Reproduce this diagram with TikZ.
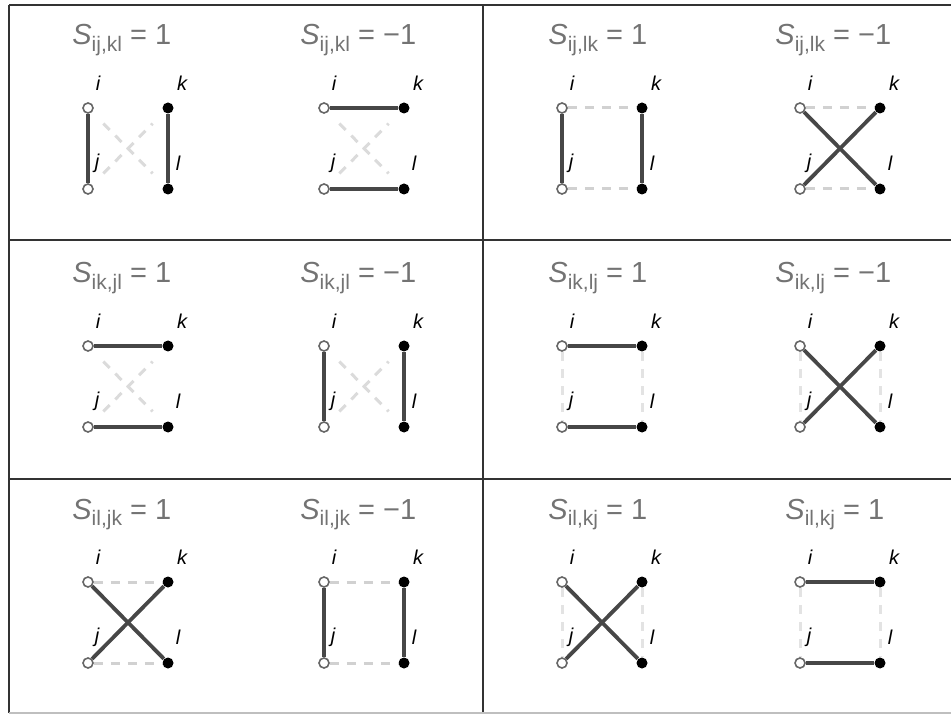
\documentclass[tikz,border=0pt]{standalone}
\usepackage{fontspec}
\setmainfont{Liberation Sans}
\tikzset{
  x=0.5pt, y=-0.5pt,
  opennode/.style={circle, draw=black!60, fill=white, line width=0.8pt, inner sep=0pt, minimum size=5pt},
  fullnode/.style={circle, fill=black, inner sep=0pt, minimum size=5.5pt},
  bond/.style={draw=black!72, line width=1.9pt},
  ghost/.style={draw=black!18, line width=1.5pt, dash pattern=on 4.5pt off 4pt},
  ghostv/.style={ghost, draw=black!11},
  ghostx/.style={ghost, draw=black!14, shorten <=8pt, shorten >=8pt},
  lbl/.style={font=\fontsize{10}{12}\selectfont\itshape, inner sep=0pt},
  ttl/.style={font=\fontsize{14.5}{17}\selectfont, text=black!55, inner sep=0pt, anchor=base west},
  grid/.style={draw=black!80, line width=1pt},
}
\newcommand\quadr[3]{%
  \node[opennode] (#1i) at (#2,#3) {};
  \node[fullnode] (#1k) at (#2+80,#3) {};
  \node[opennode] (#1j) at (#2,#3+81) {};
  \node[fullnode] (#1l) at (#2+80,#3+81) {};
  \node[lbl] (#1Li) at (#2+10,#3-25) {i};
  \node[lbl] (#1Lk) at (#2+94,#3-25) {k};
  \node[lbl] (#1Lj) at (#2+9,#3+55) {j};
  \node[lbl] (#1Ll) at (#2+90,#3+55) {l};
}
% name, left x, baseline y, subscript, value
\newcommand\qtitle[5]{%
  \node[ttl] (#1T) at (#2,#3) {\textit{S}\raisebox{-0.4ex}{\fontsize{10.5}{12}\selectfont #4} = #5};
}
\newcommand\solidV[1]{\draw[bond] (#1i) -- (#1j); \draw[bond] (#1k) -- (#1l);}
\newcommand\solidH[1]{\draw[bond] (#1i) -- (#1k); \draw[bond] (#1j) -- (#1l);}
\newcommand\solidX[1]{\draw[bond] (#1i) -- (#1l); \draw[bond] (#1j) -- (#1k);}
\newcommand\ghostV[1]{\draw[ghostv] (#1i) -- (#1j); \draw[ghostv] (#1k) -- (#1l);}
\newcommand\ghostH[1]{\draw[ghost] (#1i) -- (#1k); \draw[ghost] (#1j) -- (#1l);}
\newcommand\ghostX[1]{\draw[ghostx] (#1i) -- (#1l); \draw[ghostx] (#1j) -- (#1k);}
\begin{document}
\begin{tikzpicture}
\useasboundingbox (0,0) rectangle (951,715);
% table grid
\draw[grid] (9,5) -- (951,5);
\draw[grid] (9,240) -- (951,240);
\draw[grid] (9,479) -- (951,479);
\draw[grid] (9,5) -- (9,713);
\draw[grid] (483,5) -- (483,713);
\draw[draw=black!25, line width=1pt] (9,713) -- (951,713);

% row 1
\quadr{a}{88}{108}  \qtitle{a}{72}{45}{ij,kl}{1}      \solidV{a} \ghostX{a}
\quadr{b}{324}{108} \qtitle{b}{300}{45}{ij,kl}{−1}    \solidH{b} \ghostX{b}
\quadr{c}{562}{108} \qtitle{c}{548}{45}{ij,lk}{1}     \solidV{c} \ghostH{c}
\quadr{d}{800}{108} \qtitle{d}{775}{45}{ij,lk}{−1}    \solidX{d} \ghostH{d}
% row 2
\quadr{e}{88}{346}  \qtitle{e}{72}{283}{ik,jl}{1}      \solidH{e} \ghostX{e}
\quadr{f}{324}{346} \qtitle{f}{300}{283}{ik,jl}{−1}    \solidV{f} \ghostX{f}
\quadr{g}{562}{346} \qtitle{g}{548}{283}{ik,lj}{1}     \solidH{g} \ghostV{g}
\quadr{h}{800}{346} \qtitle{h}{775}{283}{ik,lj}{−1}    \solidX{h} \ghostV{h}
% row 3
\quadr{m}{88}{582}  \qtitle{m}{72}{519}{il,jk}{1}      \solidX{m} \ghostH{m}
\quadr{n}{324}{582} \qtitle{n}{300}{519}{il,jk}{−1}    \solidV{n} \ghostH{n}
\quadr{p}{562}{582} \qtitle{p}{548}{519}{il,kj}{1}     \solidX{p} \ghostV{p}
\quadr{q}{800}{582} \qtitle{q}{785}{519}{il,kj}{1}     \solidH{q} \ghostV{q}
\end{tikzpicture}
\end{document}
